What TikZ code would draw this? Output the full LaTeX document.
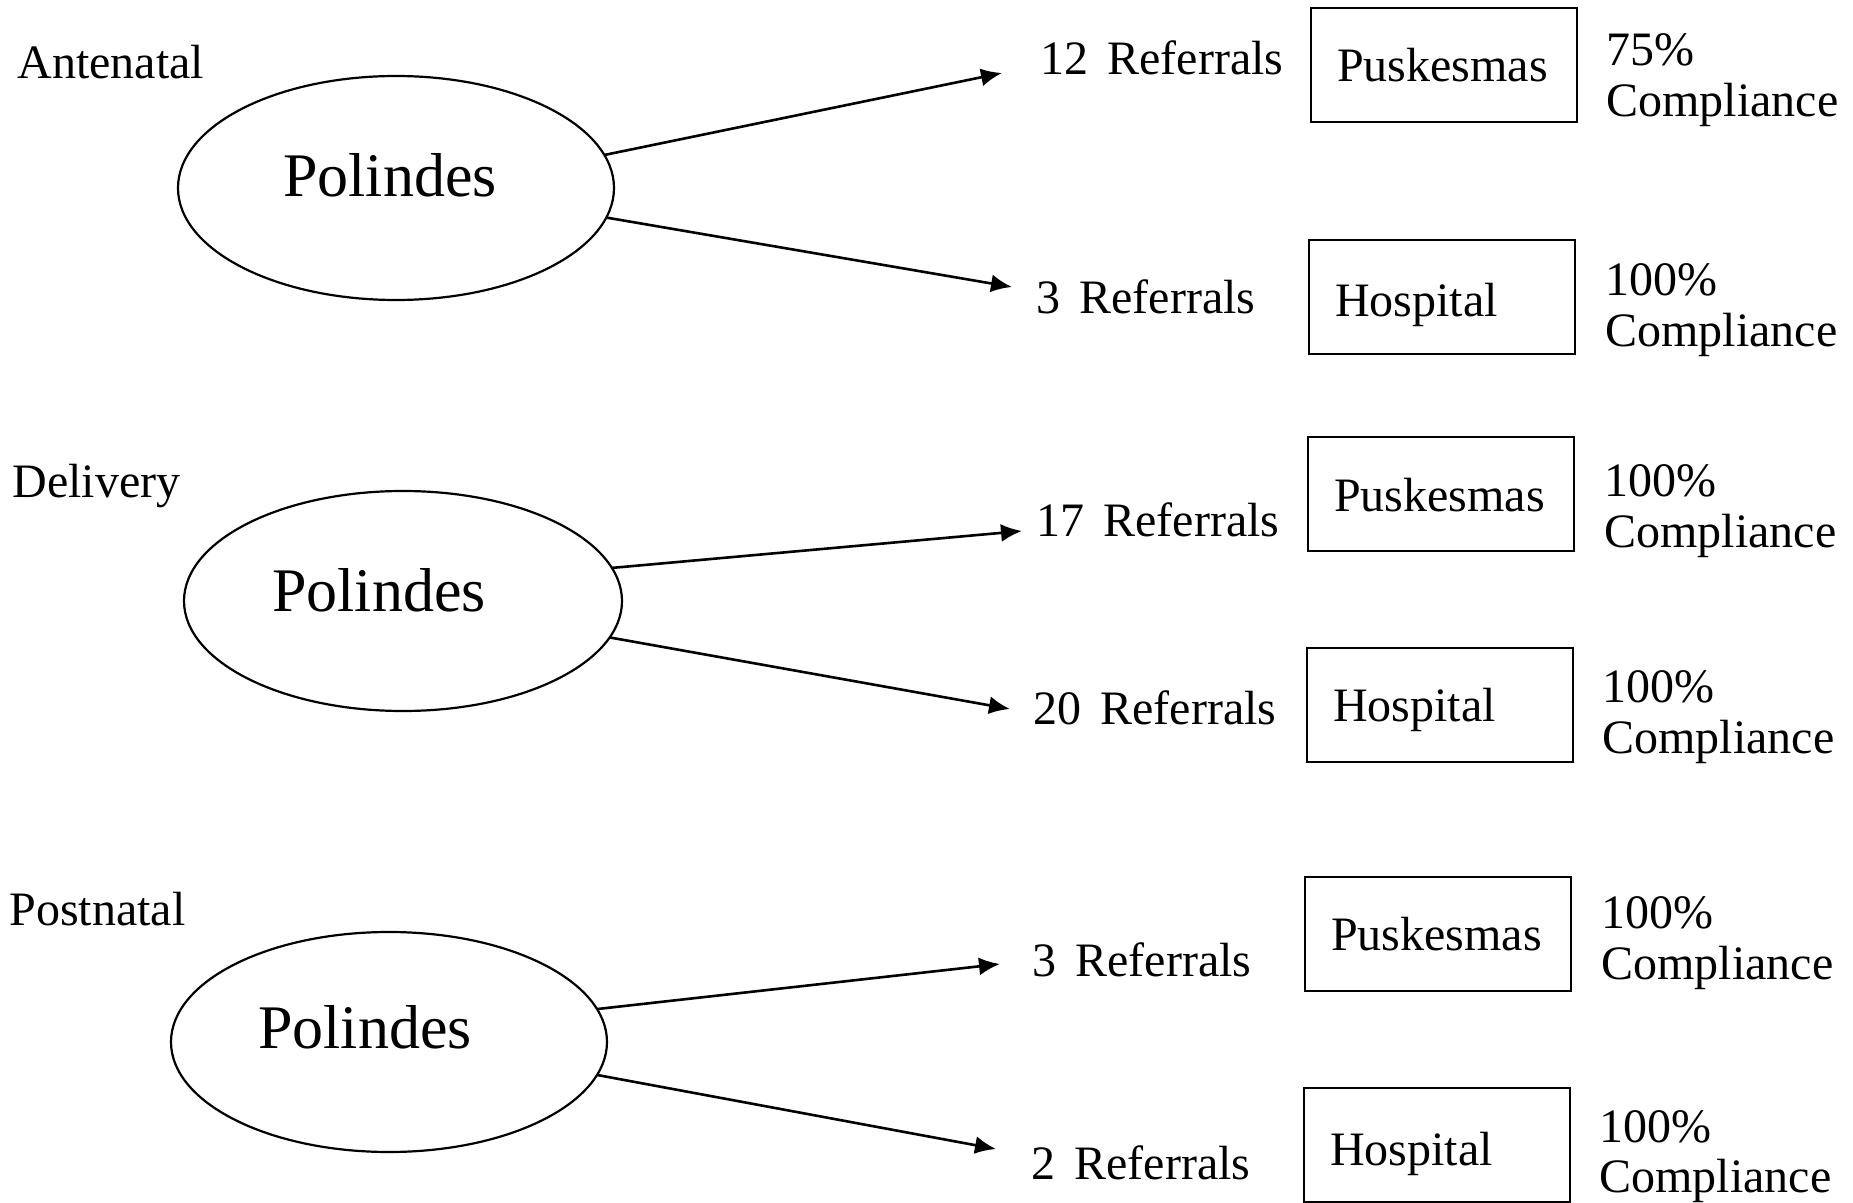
\documentclass[tikz,border=0pt]{standalone}
\usepackage{fontspec}
\setmainfont{Liberation Serif}
\usetikzlibrary{shapes.geometric,arrows.meta}

\begin{document}
\begin{tikzpicture}[x=0.5pt,y=-0.5pt,
  txt/.style={font=\fontsize{24}{28}\selectfont, inner sep=0pt, anchor=base west},
  oval/.style={draw, ellipse, line width=1.1pt, inner sep=0pt, outer sep=0pt},
  title/.style={font=\fontsize{31}{36}\selectfont, inner sep=0pt, anchor=base},
  facility/.style={draw, line width=1.1pt, minimum width=133pt, minimum height=57pt,
    text width=107pt, inner xsep=13pt, inner ysep=0pt, align=left,
    font=\fontsize{24}{28}\selectfont, text height=17pt, text depth=0pt},
  flow/.style={line width=1.3pt, -{Latex[length=10.5pt,width=9pt]}}
]
\useasboundingbox (0,0) rectangle (1853,1203);

% stage labels
\node[txt] (antenatal) at (17,79) {Antenatal};
\node[txt] (delivery)  at (12,498) {Delivery};
\node[txt] (postnatal) at (9,925) {Postnatal};

% Polindes ellipses
\node[oval, minimum width=218pt, minimum height=112pt] (e1) at (396,188) {};
\node[oval, minimum width=219pt, minimum height=110pt] (e2) at (403,601) {};
\node[oval, minimum width=218pt, minimum height=110pt] (e3) at (389,1042) {};
\node[title] (p1) at (390,197) {Polindes};
\node[title] (p2) at (379,611) {Polindes};
\node[title] (p3) at (365,1048) {Polindes};

% arrow end points
\coordinate (t1a) at (1002,73);
\coordinate (t1b) at (1012,287);
\coordinate (t2a) at (1022,531);
\coordinate (t2b) at (1010,709);
\coordinate (t3a) at (1000,964);
\coordinate (t3b) at (996,1149);

\draw[flow] (e1.9)   -- (t1a);
\draw[flow] (e1.-8)  -- (t1b);
\draw[flow] (e2.9)   -- (t2a);
\draw[flow] (e2.-10) -- (t2b);
\draw[flow] (e3.9)   -- (t3a);
\draw[flow] (e3.-9.5) -- (t3b);

% referral counts
\node[txt] (r1a) at (1040,75)   {12\hspace{0.4em}Referrals};
\node[txt] (r1b) at (1036,314)  {3\hspace{0.4em}Referrals};
\node[txt] (r2a) at (1036,537)  {17\hspace{0.4em}Referrals};
\node[txt] (r2b) at (1033,724)  {20\hspace{0.4em}Referrals};
\node[txt] (r3a) at (1032,976)  {3\hspace{0.4em}Referrals};
\node[txt] (r3b) at (1031,1179) {2\hspace{0.4em}Referrals};

% receiving facilities
\node[facility] (f1a) at (1444,65)   {Puskesmas};
\node[facility, text height=20pt] (f1b) at (1442,297)  {Hospital};
\node[facility] (f2a) at (1441,494)  {Puskesmas};
\node[facility, text height=16pt] (f2b) at (1440,705)  {Hospital};
\node[facility, text height=16pt] (f3a) at (1438,934)  {Puskesmas};
\node[facility, text height=20pt] (f3b) at (1437,1145) {Hospital};

% compliance rates
\node[txt] (c1a) at (1606,66)   {75\%};
\node[txt] (c1a2) at (1606,117) {Compliance};
\node[txt] (c1b) at (1605,296)  {100\%};
\node[txt] (c1b2) at (1605,347) {Compliance};
\node[txt] (c2a) at (1604,496)  {100\%};
\node[txt] (c2a2) at (1604,547) {Compliance};
\node[txt] (c2b) at (1602,702)  {100\%};
\node[txt] (c2b2) at (1602,753) {Compliance};
\node[txt] (c3a) at (1601,928)  {100\%};
\node[txt] (c3a2) at (1601,979) {Compliance};
\node[txt] (c3b) at (1599,1142) {100\%};
\node[txt] (c3b2) at (1599,1192) {Compliance};
\end{tikzpicture}
\end{document}
